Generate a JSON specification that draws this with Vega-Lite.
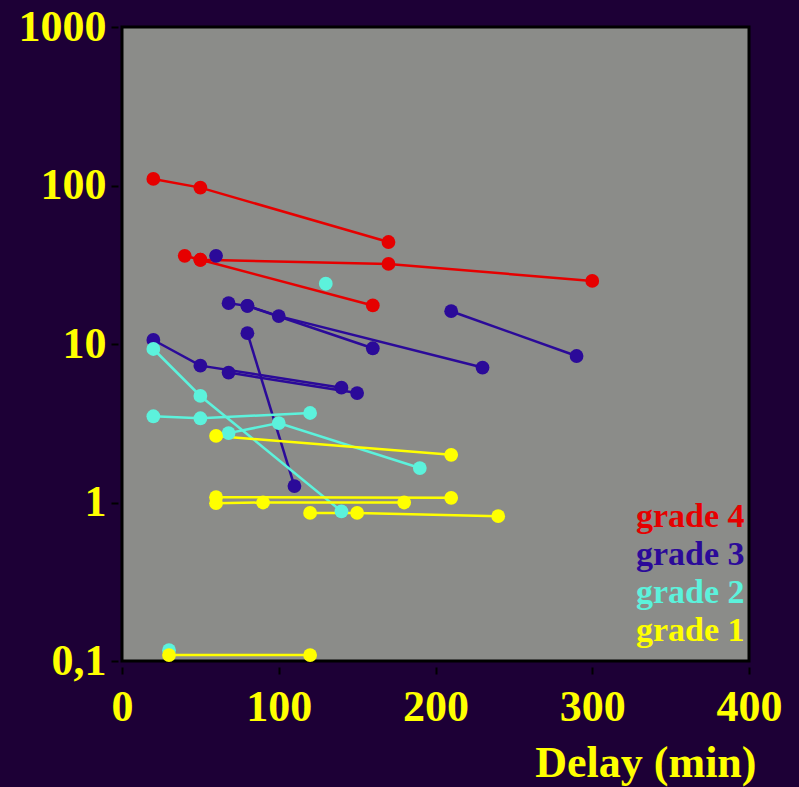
{
  "$schema": "https://vega.github.io/schema/vega-lite/v6.json",
  "width": 627,
  "height": 634,
  "autosize": "none",
  "padding": {"left": 122, "top": 27, "right": 50, "bottom": 126},
  "background": "#1d0036",
  "config": {
    "view": {"fill": "#8b8c89", "stroke": "#000000", "strokeWidth": 3},
    "axis": {
      "labelFont": "Liberation Serif", "labelFontWeight": "bold", "labelFontSize": 44, "labelColor": "#ffff00",
      "titleFont": "Liberation Serif", "titleFontWeight": "bold", "titleFontSize": 44, "titleColor": "#ffff00",
      "grid": false, "domain": false, "tickColor": "#000000", "tickWidth": 2, "tickSize": 7
    }
  },
  "data": {"values": [
    {"grade": "grade 4", "s": "r1", "o": 1, "delay": 20, "v": 110},
    {"grade": "grade 4", "s": "r1", "o": 2, "delay": 50, "v": 97},
    {"grade": "grade 4", "s": "r1", "o": 3, "delay": 170, "v": 44},
    {"grade": "grade 4", "s": "r2", "o": 1, "delay": 40, "v": 36},
    {"grade": "grade 4", "s": "r2", "o": 2, "delay": 50, "v": 34},
    {"grade": "grade 4", "s": "r2", "o": 3, "delay": 170, "v": 32},
    {"grade": "grade 4", "s": "r2", "o": 4, "delay": 300, "v": 25},
    {"grade": "grade 4", "s": "r3", "o": 1, "delay": 50, "v": 34},
    {"grade": "grade 4", "s": "r3", "o": 2, "delay": 160, "v": 17.5},
    {"grade": "grade 3", "s": "b1", "o": 1, "delay": 60, "v": 36},
    {"grade": "grade 3", "s": "b2", "o": 1, "delay": 68, "v": 18.1},
    {"grade": "grade 3", "s": "b2", "o": 2, "delay": 80, "v": 17.4},
    {"grade": "grade 3", "s": "b2", "o": 3, "delay": 160, "v": 9.4},
    {"grade": "grade 3", "s": "b3", "o": 1, "delay": 80, "v": 17.4},
    {"grade": "grade 3", "s": "b3", "o": 2, "delay": 100, "v": 15},
    {"grade": "grade 3", "s": "b3", "o": 3, "delay": 230, "v": 7.1},
    {"grade": "grade 3", "s": "b4", "o": 1, "delay": 210, "v": 16.1},
    {"grade": "grade 3", "s": "b4", "o": 2, "delay": 290, "v": 8.4},
    {"grade": "grade 3", "s": "b5", "o": 1, "delay": 80, "v": 11.7},
    {"grade": "grade 3", "s": "b5", "o": 2, "delay": 110, "v": 1.27},
    {"grade": "grade 3", "s": "b6", "o": 1, "delay": 20, "v": 10.6},
    {"grade": "grade 3", "s": "b6", "o": 2, "delay": 50, "v": 7.3},
    {"grade": "grade 3", "s": "b6", "o": 3, "delay": 140, "v": 5.3},
    {"grade": "grade 3", "s": "b7", "o": 1, "delay": 68, "v": 6.6},
    {"grade": "grade 3", "s": "b7", "o": 2, "delay": 150, "v": 4.9},
    {"grade": "grade 2", "s": "c1", "o": 1, "delay": 130, "v": 24},
    {"grade": "grade 2", "s": "c2", "o": 1, "delay": 20, "v": 9.3},
    {"grade": "grade 2", "s": "c2", "o": 2, "delay": 50, "v": 4.7},
    {"grade": "grade 2", "s": "c2", "o": 3, "delay": 140, "v": 0.88},
    {"grade": "grade 2", "s": "c3", "o": 1, "delay": 20, "v": 3.5},
    {"grade": "grade 2", "s": "c3", "o": 2, "delay": 50, "v": 3.4},
    {"grade": "grade 2", "s": "c3", "o": 3, "delay": 120, "v": 3.67},
    {"grade": "grade 2", "s": "c4", "o": 1, "delay": 68, "v": 2.74},
    {"grade": "grade 2", "s": "c4", "o": 2, "delay": 100, "v": 3.17},
    {"grade": "grade 2", "s": "c4", "o": 3, "delay": 190, "v": 1.65},
    {"grade": "grade 2", "s": "c5", "o": 1, "delay": 30, "v": 0.117},
    {"grade": "grade 1", "s": "y1", "o": 1, "delay": 60, "v": 2.63},
    {"grade": "grade 1", "s": "y1", "o": 2, "delay": 210, "v": 2.0},
    {"grade": "grade 1", "s": "y2", "o": 1, "delay": 60, "v": 1.08},
    {"grade": "grade 1", "s": "y2", "o": 2, "delay": 210, "v": 1.07},
    {"grade": "grade 1", "s": "y3", "o": 1, "delay": 60, "v": 0.99},
    {"grade": "grade 1", "s": "y3", "o": 2, "delay": 90, "v": 1.0},
    {"grade": "grade 1", "s": "y3", "o": 3, "delay": 180, "v": 1.0},
    {"grade": "grade 1", "s": "y4", "o": 1, "delay": 120, "v": 0.86},
    {"grade": "grade 1", "s": "y4", "o": 2, "delay": 150, "v": 0.86},
    {"grade": "grade 1", "s": "y4", "o": 3, "delay": 240, "v": 0.82},
    {"grade": "grade 1", "s": "y5", "o": 1, "delay": 30, "v": 0.109},
    {"grade": "grade 1", "s": "y5", "o": 2, "delay": 120, "v": 0.109}
  ]},
  "encoding": {
    "x": {"field": "delay", "type": "quantitative",
      "scale": {"domain": [0, 400], "nice": false, "zero": false},
      "axis": {"values": [0, 100, 200, 300, 400], "title": "Delay (min)", "titleAnchor": "end", "titleAlign": "right", "titleX": 634, "titlePadding": 12, "labelPadding": 11, "offset": 6, "labelFlush": false}},
    "y": {"field": "v", "type": "quantitative",
      "scale": {"type": "log", "domain": [0.1, 1000], "nice": false},
      "axis": {"values": [0.1, 1, 10, 100, 1000], "title": null, "labelExpr": "datum.value < 0.5 ? '0,1' : format(datum.value, 'd')", "labelPadding": 5, "offset": 4, "labelFlush": false}},
    "color": {"field": "grade", "type": "nominal",
      "scale": {"domain": ["grade 4", "grade 3", "grade 2", "grade 1"], "range": ["#e60000", "#2b0a99", "#5cf2dc", "#ffff00"]},
      "legend": {
        "title": null, "orient": "none", "legendX": 480, "legendY": 473,
        "symbolSize": 0, "symbolOpacity": 0, "symbolStrokeWidth": 0, "labelOffset": 0,
        "labelFont": "Liberation Serif", "labelFontWeight": "bold", "labelFontSize": 34, "labelLimit": 300,
        "rowPadding": 4,
        "encode": {"labels": {"update": {"fill": {"scale": "color", "field": "value"}}}}
      }}
  },
  "layer": [
    {"mark": {"type": "line", "strokeWidth": 2.5},
     "encoding": {"detail": {"field": "s"}, "order": {"field": "o", "type": "quantitative"}}},
    {"mark": {"type": "point", "filled": true, "opacity": 1, "size": 190},
     "encoding": {"shape": {"value": "circle"}}}
  ]
}
